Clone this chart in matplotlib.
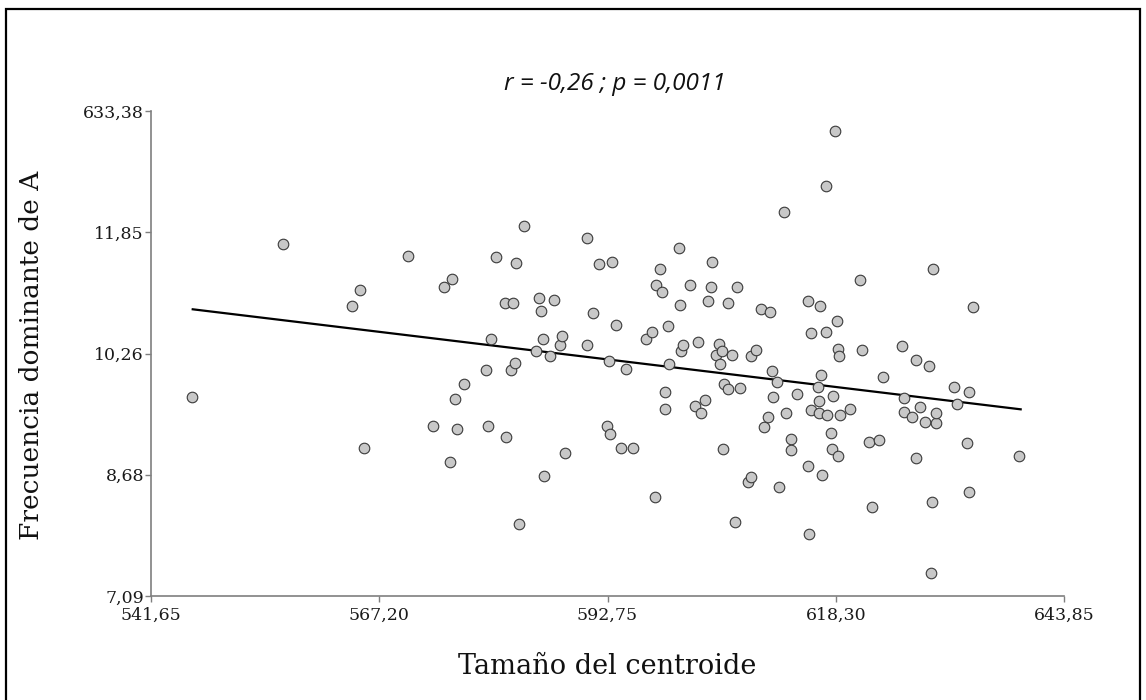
import matplotlib
matplotlib.use("Agg")
import matplotlib.pyplot as plt
from matplotlib.patches import Rectangle
import numpy as np

# ---- data ----
centroid_size = [
    546.24, 556.42, 564.15, 565.01, 565.52, 570.45, 573.21, 574.41, 575.08, 575.37,
    575.68, 575.90, 576.65, 579.18, 579.37, 579.67, 580.23, 581.24, 581.42, 581.98,
    582.17, 582.39, 582.50, 582.84, 583.37, 584.78, 585.11, 585.34, 585.49, 585.64,
    586.31, 586.72, 587.43, 587.65, 588.02, 590.49, 590.45, 591.12, 591.80, 592.72,
    592.95, 592.99, 593.22, 593.73, 594.22, 594.85, 595.57, 597.09, 597.73, 598.06,
    598.21, 598.66, 598.88, 599.22, 599.22, 599.52, 599.66, 600.72, 600.86, 600.97,
    601.23, 602.01, 602.51, 602.84, 603.18, 603.66, 604.00, 604.30, 604.44, 604.89,
    605.26, 605.31, 605.53, 605.64, 605.75, 606.23, 606.23, 606.65, 607.02, 607.24,
    607.58, 608.51, 608.77, 608.81, 609.37, 609.93, 610.26, 610.71, 610.90, 611.19,
    611.24, 611.75, 611.91, 612.54, 612.76, 613.29, 613.25, 613.99, 615.19, 615.19,
    615.33, 615.49, 615.56, 616.34, 616.39, 616.50, 616.64, 616.72, 616.45, 617.20,
    617.20, 617.35, 617.73, 617.84, 617.99, 618.21, 618.51, 618.47, 618.51, 618.69,
    618.80, 619.86, 620.97, 621.20, 621.98, 622.32, 623.17, 623.62, 625.74, 625.97,
    625.90, 626.80, 627.24, 627.24, 627.76, 628.25, 628.70, 629.03, 629.21, 628.96,
    629.48, 629.55, 631.53, 631.87, 633.02, 633.18, 633.18, 633.69, 638.77,
]
dominant_freq = [
    9.69, 11.69, 10.88, 11.09, 9.03, 11.54, 9.31, 11.13, 8.84, 11.24,
    9.67, 9.28, 9.86, 10.05, 9.31, 10.45, 11.52, 10.92, 9.17, 10.05,
    10.92, 10.14, 11.45, 8.03, 11.93, 10.30, 10.99, 10.82, 10.45, 8.66,
    10.23, 10.96, 10.37, 10.49, 8.96, 11.78, 10.37, 10.79, 11.43, 9.32,
    10.16, 9.21, 11.46, 10.64, 9.03, 10.06, 9.03, 10.45, 10.55, 8.38,
    11.16, 11.37, 11.07, 9.76, 9.54, 10.62, 10.13, 11.65, 10.90, 10.29,
    10.37, 11.16, 9.58, 10.42, 9.48, 9.66, 10.95, 11.13, 11.46, 10.24,
    10.39, 10.12, 10.29, 9.02, 9.86, 10.92, 9.80, 10.25, 8.06, 11.13,
    9.81, 8.58, 8.65, 10.23, 10.31, 10.85, 9.30, 9.43, 10.81, 10.03,
    9.70, 9.89, 8.52, 12.11, 9.48, 9.15, 9.00, 9.73, 10.95, 8.79,
    7.90, 9.52, 10.53, 9.82, 9.49, 10.89, 9.98, 8.68, 9.64, 12.46,
    10.54, 9.46, 9.22, 9.02, 9.71, 13.18, 8.92, 10.69, 10.32, 10.23,
    9.46, 9.54, 11.22, 10.31, 9.11, 8.26, 9.13, 9.95, 10.36, 9.68,
    9.50, 9.43, 10.18, 8.90, 9.56, 9.37, 10.10, 8.32, 11.37, 7.39,
    9.36, 9.48, 9.83, 9.60, 9.09, 9.76, 8.45, 10.87, 8.92,
]
fit_x = [546.32, 639.00]
fit_y = [10.842, 9.533]

x_ticks = [541.65, 567.20, 592.75, 618.30, 643.85]
x_tick_labels = ["541,65", "567,20", "592,75", "618,30", "643,85"]
y_ticks = [7.09, 8.676, 10.263, 11.85, 13.437]
y_tick_labels = ["7,09", "8,68", "10,26", "11,85", "633,38"]

title_text = "r = -0,26 ; p = 0,0011"
x_label = "Tamaño del centroide"
y_label = "Frecuencia dominante de A"

# ---- figure ----
W, H = 1146, 700
fig = plt.figure(figsize=(W / 100, H / 100), dpi=100)
ax = fig.add_axes([151 / W, 1 - 596 / H, (1064 - 151) / W, (596 - 111) / H])

serif = ["DejaVu Serif"]
axis_gray = "#7f7f7f"

ax.plot(fit_x, fit_y, color="black", lw=1.6, zorder=2)
ax.scatter(centroid_size, dominant_freq, s=58, facecolor="#c8c8c8",
           edgecolor="#3a3a3a", linewidths=0.8, zorder=3)

ax.set_xlim(x_ticks[0], x_ticks[-1])
ax.set_ylim(y_ticks[0], y_ticks[-1])
ax.set_xticks(x_ticks)
ax.set_xticklabels(x_tick_labels, family=serif, fontsize=12.5, color="#1a1a1a")
ax.set_yticks(y_ticks)
ax.set_yticklabels(y_tick_labels, family=serif, fontsize=12.5, color="#1a1a1a")
ax.tick_params(axis="both", direction="out", length=4, width=1, color=axis_gray)
ax.tick_params(axis="x", pad=4)
ax.tick_params(axis="y", pad=1)

for side in ("top", "right"):
    ax.spines[side].set_visible(False)
for side in ("left", "bottom"):
    ax.spines[side].set_color(axis_gray)
    ax.spines[side].set_linewidth(1.2)

fig.text(615 / W, 1 - 84 / H, title_text, ha="center", va="center",
         fontsize=17.5, style="italic",
         family=["Liberation Sans Narrow", "Open Sans", "DejaVu Sans"], color="#111111")
fig.text(607 / W, 1 - 667 / H, x_label, ha="center", va="center",
         fontsize=19.5, family=serif, color="#111111")
fig.text(32 / W, 1 - 355 / H, y_label, ha="center", va="center", rotation=90,
         fontsize=19, family=serif, color="#111111")

# outer frame
fig.patches.append(Rectangle((6 / W, -0.02), (1140 - 6) / W, 1.02 - 9 / H,
                             transform=fig.transFigure, fill=False,
                             edgecolor="black", linewidth=1.6))

fig.savefig("out.png", dpi=100)
